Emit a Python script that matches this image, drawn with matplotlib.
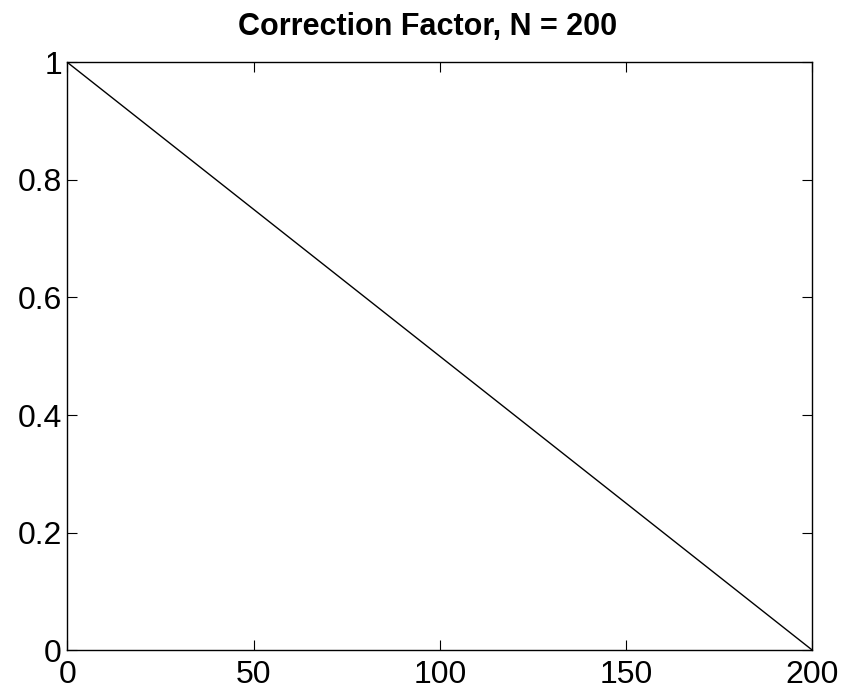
import matplotlib
matplotlib.use('Agg')
import matplotlib.pyplot as plt

# correction factor falls linearly from 1 at n=0 to 0 at n=N
n = [0, 200]
factor = [1.0, 0.0]
x_ticks = [0, 50, 100, 150, 200]
y_ticks = [0, 0.2, 0.4, 0.6, 0.8, 1]
y_labels = ['0', '0.2', '0.4', '0.6', '0.8', '1']

plt.rcParams['font.family'] = ['Liberation Sans', 'DejaVu Sans']

fig = plt.figure(figsize=(8.54, 6.91), dpi=100)
ax = fig.add_axes([0.079, 0.0593, 0.872, 0.8503])

ax.plot(n, factor, color='black', linewidth=1.0)
ax.set_xlim(0, 200)
ax.set_ylim(0, 1)
ax.set_xticks(x_ticks)
ax.set_yticks(y_ticks)
ax.set_yticklabels(y_labels)
ax.tick_params(direction='in', length=7, width=0.8, top=True, right=True,
               labelsize=23)
ax.tick_params(axis='x', pad=7)
ax.tick_params(axis='y', pad=4)
for s in ax.spines.values():
    s.set_linewidth(1.0)

ax.set_title('Correction Factor, N = 200', fontsize=22, fontweight='bold',
             pad=20, x=0.483)

fig.savefig('out.png', dpi=100)
